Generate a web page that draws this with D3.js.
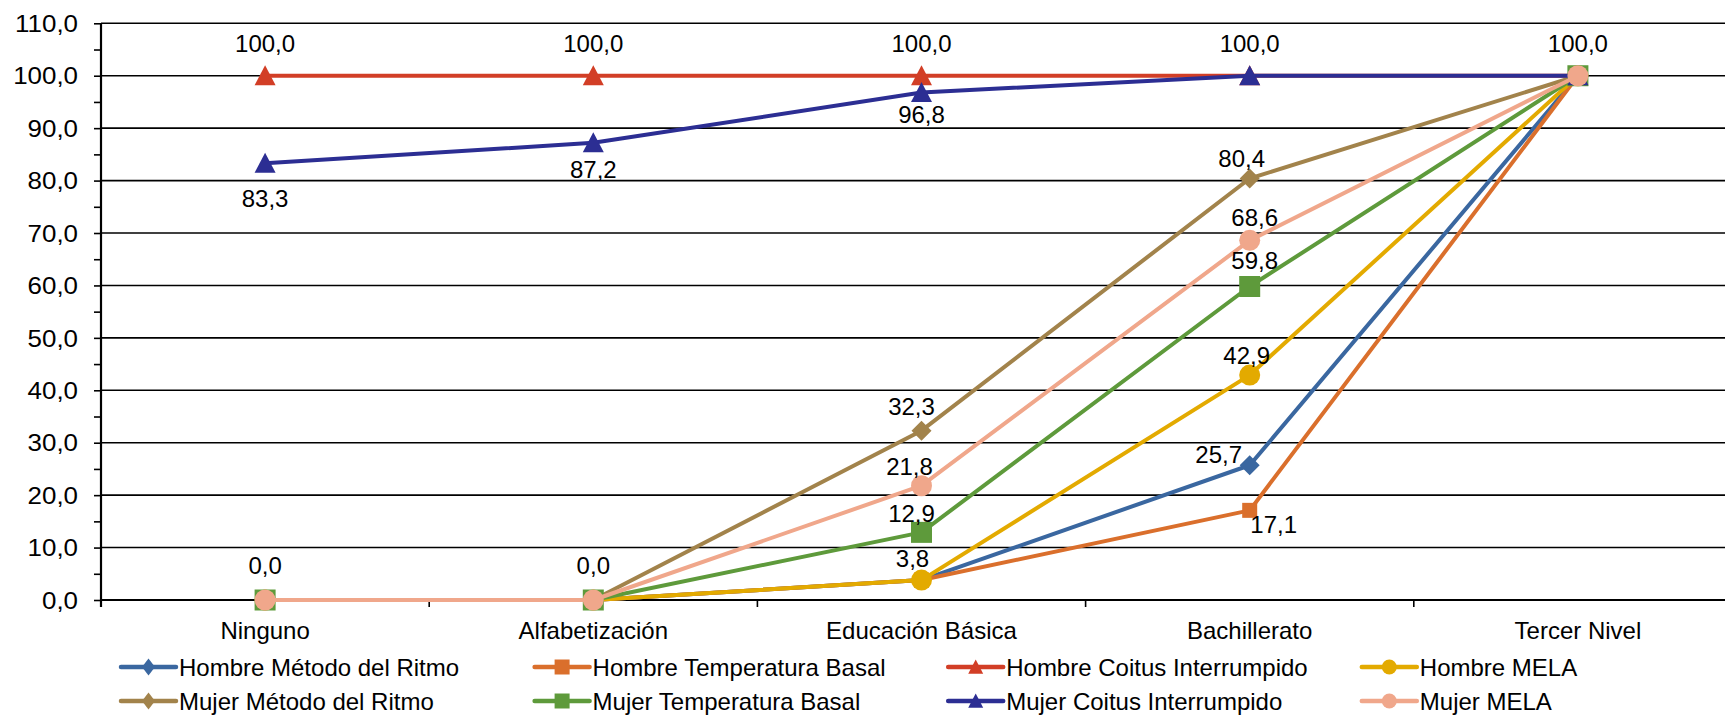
<!DOCTYPE html>
<html>
<head>
<meta charset="utf-8">
<script src="https://cdn.jsdelivr.net/npm/d3@7"></script>
<style>
  html, body { margin: 0; padding: 0; background: #fff; }
  svg { display: block; font-family: "Liberation Sans", Arial, sans-serif; }
</style>
</head>
<body>
<svg id="chart" width="1725" height="715"></svg>
<script>
// Nivel de instrucción (categorías del eje X)
const categories = ["Ninguno", "Alfabetización", "Educación Básica", "Bachillerato", "Tercer Nivel"];

// Porcentajes por método y sexo
const hombreRitmo   = [0, 0, 3.8, 25.7, 100];
const hombreTemp    = [0, 0, 3.8, 17.1, 100];
const hombreCoitus  = [100, 100, 100, 100, 100];
const hombreMela    = [0, 0, 3.8, 42.9, 100];
const mujerRitmo    = [0, 0, 32.3, 80.4, 100];
const mujerTemp     = [0, 0, 12.9, 59.8, 100];
const mujerCoitus   = [83.3, 87.2, 96.8, 100, 100];
const mujerMela     = [0, 0, 21.8, 68.6, 100];

const seriesNames = [
  "Hombre Método del Ritmo", "Hombre Temperatura Basal", "Hombre Coitus Interrumpido", "Hombre MELA",
  "Mujer Método del Ritmo", "Mujer Temperatura Basal", "Mujer Coitus Interrumpido", "Mujer MELA"
];
const seriesValues = [hombreRitmo, hombreTemp, hombreCoitus, hombreMela,
                      mujerRitmo, mujerTemp, mujerCoitus, mujerMela];

// Marcas del eje Y
const yTicks = [0, 10, 20, 30, 40, 50, 60, 70, 80, 90, 100, 110];

// Estilo de cada serie
const seriesColors  = ["#3A67A0", "#DA6F2C", "#D23E26", "#E3AA00", "#A2834B", "#5E9A3B", "#2C2E93", "#F0A78B"];
const seriesMarkers = ["diamond", "square", "triangle", "circle", "diamond", "square", "triangle", "circle"];
const seriesMarkerSizes = [20, 15, 21, 21, 20, 21, 21, 21];

// Etiquetas de datos visibles: [serie, categoría, dx, dy]
const dataLabels = [
  [2, 0, 0, -32], [2, 1, 0, -32], [2, 2, 0, -32], [2, 3, 0, -32], [2, 4, 0, -32],
  [6, 0, 0, 35], [6, 1, 0, 27], [6, 2, 0, 22],
  [7, 0, 0, -35], [7, 1, 0, -35],
  [4, 2, -10, -24], [7, 2, -12, -19], [5, 2, -10, -19], [3, 2, -9, -22],
  [4, 3, -8, -20], [7, 3, 5, -23], [5, 3, 5, -26], [3, 3, -3, -20],
  [0, 3, -31, -11], [1, 3, 24, 14]
];

const fmt = v => d3.format(".1f")(v).replace(".", ",");

const svg = d3.select("#chart");
const plot = { left: 101, right: 1742, top: 23.3, bottom: 600 };
const fontSize = 24;

const x = d3.scaleBand().domain(categories).range([plot.left, plot.right]).padding(0);
const y = d3.scaleLinear().domain([0, 110]).range([plot.bottom, plot.top]);
const cx = c => x(c) + x.bandwidth() / 2;

// Líneas de cuadrícula horizontales
svg.append("g")
  .selectAll("line")
  .data(yTicks.filter(t => t > 0))
  .join("line")
  .attr("x1", plot.left).attr("x2", plot.right)
  .attr("y1", d => y(d)).attr("y2", d => y(d))
  .attr("stroke", "#000").attr("stroke-width", 1.6);

// Eje Y con marcas menores cada 5
const yAxis = svg.append("g").attr("transform", `translate(${plot.left},0)`);
yAxis.call(d3.axisLeft(y).tickValues(d3.range(0, 111, 5)).tickSize(7).tickFormat(""))
  .call(g => g.select(".domain").remove());
yAxis.selectAll(".tick line").attr("stroke", "#000").attr("stroke-width", 1.6);
yAxis.append("line").attr("x1", 0).attr("x2", 0).attr("y1", plot.top).attr("y2", plot.bottom + 7)
  .attr("stroke", "#000").attr("stroke-width", 2.2);
yAxis.selectAll(".ylabel")
  .data(yTicks)
  .join("text")
  .attr("class", "ylabel")
  .attr("transform", d => `translate(-23,${y(d)}) scale(1.08,1)`)
  .attr("text-anchor", "end").attr("dominant-baseline", "central")
  .attr("font-size", 24).attr("fill", "#000")
  .text(d => fmt(d));

// Eje X con marcas entre categorías
const xAxis = svg.append("g").attr("transform", `translate(0,${plot.bottom})`);
xAxis.append("line").attr("x1", plot.left).attr("x2", plot.right).attr("y1", 0).attr("y2", 0)
  .attr("stroke", "#000").attr("stroke-width", 2.2);
xAxis.selectAll(".xtick")
  .data(categories.slice(1))
  .join("line")
  .attr("class", "xtick")
  .attr("x1", d => x(d)).attr("x2", d => x(d))
  .attr("y1", 0).attr("y2", 7)
  .attr("stroke", "#000").attr("stroke-width", 1.6);
xAxis.selectAll(".xlabel")
  .data(categories)
  .join("text")
  .attr("class", "xlabel")
  .attr("x", d => cx(d)).attr("y", 30)
  .attr("text-anchor", "middle").attr("dominant-baseline", "central")
  .attr("font-size", fontSize).attr("fill", "#000")
  .text(d => d);

// Símbolos de marcador
function markerPath(type, w, h) {
  const a = w / 2, b = (h || w) / 2;
  switch (type) {
    case "diamond": return `M0,${-b}L${a},0L0,${b}L${-a},0Z`;
    case "square": return `M${-a},${-a}H${a}V${a}H${-a}Z`;
    case "triangle": return `M0,${-a}L${a},${a * 0.9}L${-a},${a * 0.9}Z`;
    case "circle": return `M${a},0A${a},${a},0,1,1,${-a},0A${a},${a},0,1,1,${a},0Z`;
  }
}

const line = d3.line().x((d, i) => cx(categories[i])).y(d => y(d));

seriesValues.forEach((vals, s) => {
  const g = svg.append("g");
  g.append("path")
    .datum(vals)
    .attr("d", line)
    .attr("fill", "none")
    .attr("stroke", seriesColors[s])
    .attr("stroke-width", 4)
    .attr("stroke-linejoin", "round");
  g.selectAll("path.mk")
    .data(vals)
    .join("path")
    .attr("class", "mk")
    .attr("transform", (d, i) => `translate(${cx(categories[i])},${y(d)})`)
    .attr("d", markerPath(seriesMarkers[s], seriesMarkerSizes[s]))
    .attr("fill", seriesColors[s]);
});

// Etiquetas de datos
svg.append("g")
  .selectAll("text")
  .data(dataLabels)
  .join("text")
  .attr("x", d => cx(categories[d[1]]) + d[2])
  .attr("y", d => y(seriesValues[d[0]][d[1]]) + d[3])
  .attr("text-anchor", "middle").attr("dominant-baseline", "central")
  .attr("font-size", fontSize).attr("fill", "#000")
  .text(d => fmt(seriesValues[d[0]][d[1]]));

// Leyenda en dos filas de cuatro
const legend = svg.append("g");
const legX0 = 121, legDX = 413.6, legY0 = 667, legDY = 34;
seriesNames.forEach((name, s) => {
  const col = s % 4, row = Math.floor(s / 4);
  const gx = legX0 + col * legDX, gy = legY0 + row * legDY;
  const g = legend.append("g").attr("transform", `translate(${gx},${gy})`);
  g.append("line").attr("x1", 0).attr("x2", 55).attr("y1", 0).attr("y2", 0)
    .attr("stroke", seriesColors[s]).attr("stroke-width", 4.5)
    .attr("stroke-linecap", "round");
  const m = seriesMarkers[s];
  g.append("path").attr("transform", "translate(27.5,0)")
    .attr("d", m === "diamond" ? markerPath(m, 13, 17) : markerPath(m, 15))
    .attr("fill", seriesColors[s]);
  g.append("text").attr("x", 58).attr("y", 0)
    .attr("dominant-baseline", "central")
    .attr("font-size", fontSize).attr("fill", "#000")
    .text(name);
});
</script>
</body>
</html>
